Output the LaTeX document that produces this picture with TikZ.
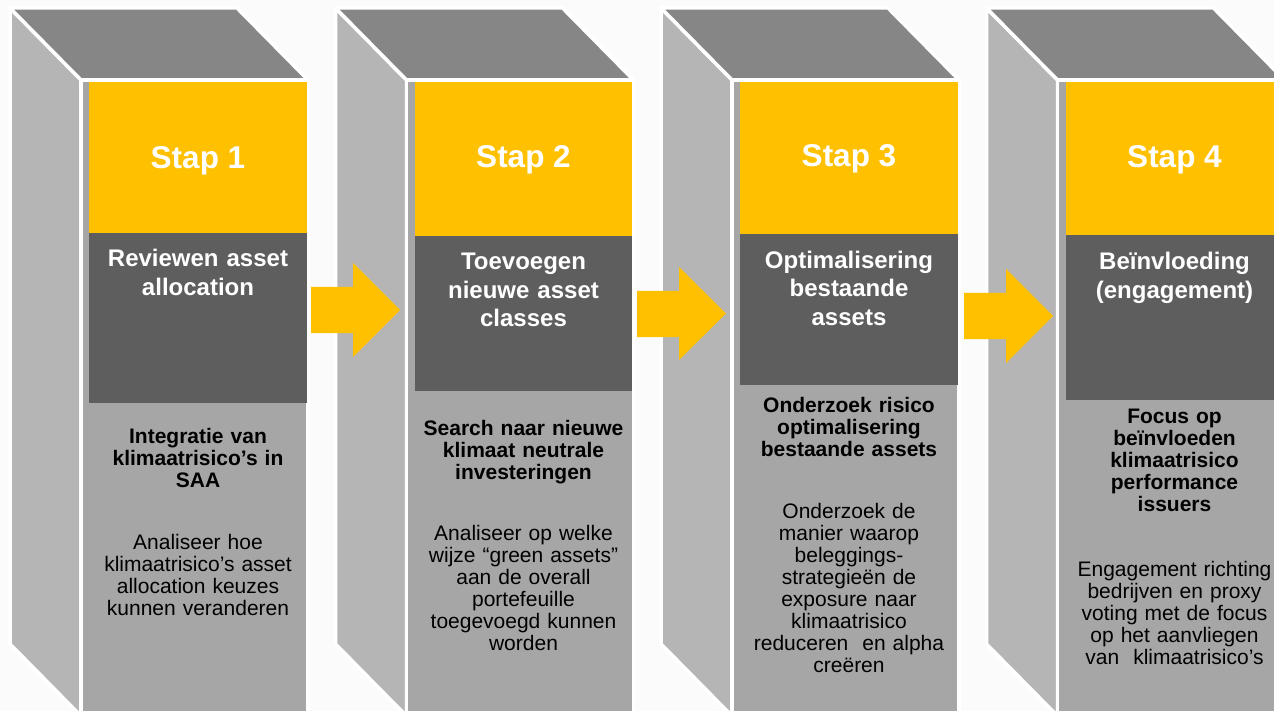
\documentclass[tikz,border=0pt]{standalone}
\usepackage{fontspec}
\setmainfont{Liberation Sans}
\definecolor{bgcol}{HTML}{FBFBFB}
\definecolor{topgray}{HTML}{868686}
\definecolor{sidegray}{HTML}{B5B5B5}
\definecolor{frontgray}{HTML}{A6A6A6}
\definecolor{darkgray}{HTML}{5E5E5E}
\definecolor{gold}{HTML}{FFC000}
% one pillar: side face, top face, front face, yellow band and dark band
% #1 = horizontal offset, #2 = bottom of yellow band, #3 = bottom of dark band
\newcommand\drawpillar[3]{%
  \begin{scope}[xshift=#1pt]
    \draw[sideface]  (10,8) -- (81,80) -- (81,716) -- (10,644) -- cycle;
    \draw[topface]   (10,8) -- (237,8) -- (308,80) -- (81,80) -- cycle;
    \draw[frontface] (81,80) rectangle (308,716);
    \fill[gold]      (89,82) rectangle (306.5,#2);
    \fill[darkgray]  (89,#2) rectangle (306.5,#3);
  \end{scope}}
\begin{document}
\begin{tikzpicture}[x=1pt,y=-1pt,
  face/.style={draw=white, line width=3.5pt, line join=round},
  topface/.style={face, fill=topgray},
  sideface/.style={face, fill=sidegray},
  frontface/.style={face, fill=frontgray},
  steptitle/.style={anchor=base, inner sep=0pt, text=white,
    font=\fontsize{31.5}{36}\selectfont\bfseries},
  headtext/.style={anchor=base, inner sep=0pt, text=white, text width=240pt,
    align=center, font=\fontsize{24}{28.5}\selectfont\bfseries},
  boldtext/.style={anchor=base, inner sep=0pt, text=black, text width=240pt,
    align=center, font=\fontsize{21}{22}\selectfont\bfseries},
  bodytext/.style={anchor=base, inner sep=0pt, text=black, text width=240pt,
    align=center, font=\fontsize{21}{22}\selectfont},
  blockarrow/.style={fill=gold}]
\useasboundingbox (0,0) rectangle (1274,711);
\clip (0,0) rectangle (1274,711);
\fill[bgcol] (0,0) rectangle (1274,711);

% the four pillars
\drawpillar{0}{233}{403}
\drawpillar{325.5}{236}{391}
\drawpillar{651}{234}{385}
\drawpillar{976.5}{235}{400}

% block arrows between the pillars
\fill[blockarrow] (311,287) -- (353,287) -- (353,263) -- (400,310)
  -- (353,357) -- (353,333) -- (311,333) -- cycle;
\fill[blockarrow] (637,291) -- (679,291) -- (679,267) -- (726,313.5)
  -- (679,360) -- (679,337) -- (637,337) -- cycle;
\fill[blockarrow] (964,293) -- (1006,293) -- (1006,269) -- (1053,316)
  -- (1006,363) -- (1006,339) -- (964,339) -- cycle;

% step 1
\node[steptitle] (t1) at (198,169) {Stap 1};
\node[headtext]  (h1) at (198,267) {Reviewen asset\\allocation};
\node[boldtext]  (b1) at (198,443.5) {Integratie van\\klimaatrisico’s in\\SAA};
\node[bodytext]  (d1) at (198,549) {Analiseer hoe\\klimaatrisico’s asset\\allocation keuzes\\kunnen veranderen};

% step 2
\node[steptitle] (t2) at (523.5,167.5) {Stap 2};
\node[headtext]  (h2) at (523.5,270) {Toevoegen\\nieuwe asset\\classes};
\node[boldtext]  (b2) at (523.5,435) {Search naar nieuwe\\klimaat neutrale\\investeringen};
\node[bodytext]  (d2) at (523.5,540) {Analiseer op welke\\wijze “green assets”\\aan de overall\\portefeuille\\toegevoegd kunnen\\worden};

% step 3
\node[steptitle] (t3) at (849,167) {Stap 3};
\node[headtext]  (h3) at (849,268.5) {Optimalisering\\bestaande\\assets};
\node[boldtext]  (b3) at (849,412.5) {Onderzoek risico\\optimalisering\\bestaande assets};
\node[bodytext]  (d3) at (849,518.5) {Onderzoek de\\manier waarop\\beleggings-\\strategieën de\\exposure naar\\klimaatrisico\\reduceren~ en alpha\\creëren};

% step 4
\node[steptitle] (t4) at (1174.5,167.5) {Stap 4};
\node[headtext]  (h4) at (1174.5,269.5) {Beïnvloeding\\(engagement)};
\node[boldtext]  (b4) at (1174.5,423.5) {Focus op\\beïnvloeden\\klimaatrisico\\performance\\issuers};
\node[bodytext]  (d4) at (1174.5,576.5) {Engagement richting\\bedrijven en proxy\\voting met de focus\\op het aanvliegen\\van~ klimaatrisico’s};
\end{tikzpicture}
\end{document}
